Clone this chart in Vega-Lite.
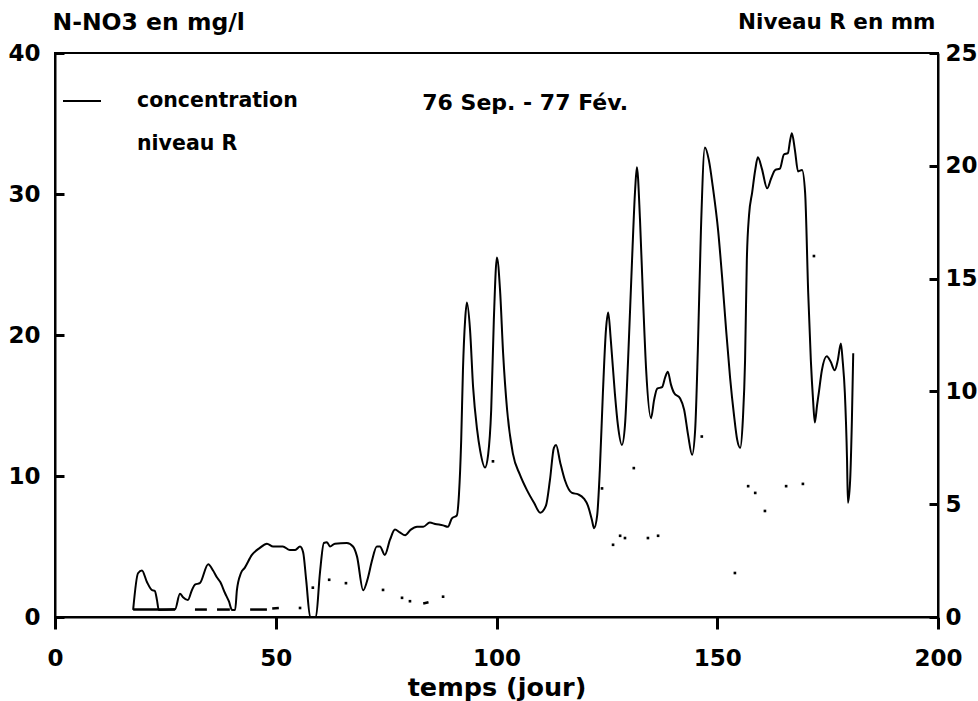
{
  "$schema": "https://vega.github.io/schema/vega-lite/v6.json",
  "autosize": {"type": "none"},
  "padding": {"left": 55, "top": 53, "right": 40, "bottom": 84},
  "width": 883,
  "height": 564,
  "background": "white",
  "config": {
    "font": "DejaVu Sans",
    "view": {"stroke": "black", "strokeWidth": 2},
    "axis": {
      "grid": false,
      "domainColor": "black",
      "domainWidth": 2,
      "labelFont": "DejaVu Sans",
      "labelFontWeight": "bold",
      "labelFontSize": 23,
      "labelColor": "black",
      "titleFont": "DejaVu Sans",
      "titleFontWeight": "bold",
      "titleColor": "black"
    },
    "legend": {
      "orient": "none",
      "legendX": 7,
      "legendY": 28,
      "padding": 0,
      "symbolType": "stroke",
      "symbolSize": 1444,
      "symbolStrokeWidth": 2,
      "labelFont": "DejaVu Sans",
      "labelFontWeight": "bold",
      "labelFontSize": 20.5,
      "labelColor": "black",
      "labelOffset": 35,
      "labelLimit": 0,
      "rowPadding": 12
    }
  },
  "datasets": {
    "conc": [
      {"day": 17.7, "c": 0.5}, {"day": 18.8, "c": 3.1}, {"day": 19.7, "c": 3.3}, {"day": 20.8, "c": 2.5},
      {"day": 22.0, "c": 1.9}, {"day": 22.6, "c": 1.85}, {"day": 23.1, "c": 1.2}, {"day": 23.5, "c": 0.5},
      {"day": 27.2, "c": 0.55}, {"day": 28.3, "c": 1.65}, {"day": 29.0, "c": 1.4}, {"day": 30.1, "c": 1.2},
      {"day": 31.0, "c": 1.9}, {"day": 31.7, "c": 2.3}, {"day": 32.8, "c": 2.4}, {"day": 34.7, "c": 3.75},
      {"day": 35.8, "c": 3.3}, {"day": 36.7, "c": 2.8}, {"day": 37.4, "c": 2.5}, {"day": 38.5, "c": 1.7},
      {"day": 39.4, "c": 1.1}, {"day": 40.1, "c": 0.5}, {"day": 40.8, "c": 0.5}, {"day": 41.2, "c": 1.9},
      {"day": 42.1, "c": 3.1}, {"day": 43.0, "c": 3.5}, {"day": 44.6, "c": 4.4}, {"day": 46.4, "c": 4.9},
      {"day": 48.0, "c": 5.2}, {"day": 49.4, "c": 5.0}, {"day": 51.6, "c": 5.0}, {"day": 53.2, "c": 4.75},
      {"day": 54.4, "c": 4.75}, {"day": 55.5, "c": 5.0}, {"day": 56.2, "c": 4.6}, {"day": 56.9, "c": 2.6},
      {"day": 57.8, "c": 0.0}, {"day": 59.1, "c": 0.0}, {"day": 60.0, "c": 3.1}, {"day": 60.9, "c": 5.25},
      {"day": 61.6, "c": 5.3}, {"day": 62.3, "c": 5.0}, {"day": 63.4, "c": 5.2}, {"day": 66.1, "c": 5.25},
      {"day": 67.5, "c": 5.0}, {"day": 68.4, "c": 4.3}, {"day": 69.8, "c": 1.9}, {"day": 70.9, "c": 2.8},
      {"day": 71.8, "c": 4.0}, {"day": 72.9, "c": 5.0}, {"day": 73.6, "c": 5.0}, {"day": 74.7, "c": 4.4},
      {"day": 75.9, "c": 5.5}, {"day": 77.0, "c": 6.2}, {"day": 78.1, "c": 6.0}, {"day": 79.3, "c": 5.8},
      {"day": 80.6, "c": 6.2}, {"day": 82.0, "c": 6.4}, {"day": 83.4, "c": 6.4}, {"day": 84.9, "c": 6.7},
      {"day": 86.1, "c": 6.6}, {"day": 87.9, "c": 6.5}, {"day": 89.0, "c": 6.4}, {"day": 89.9, "c": 7.0},
      {"day": 91.0, "c": 7.2}, {"day": 91.5, "c": 8.7}, {"day": 92.0, "c": 12.5}, {"day": 92.4, "c": 17.5},
      {"day": 92.9, "c": 21.1}, {"day": 93.3, "c": 22.3}, {"day": 94.0, "c": 20.4}, {"day": 94.7, "c": 16.3},
      {"day": 95.6, "c": 13.3}, {"day": 96.3, "c": 11.8}, {"day": 97.4, "c": 10.6}, {"day": 98.1, "c": 11.5},
      {"day": 98.8, "c": 14.7}, {"day": 99.4, "c": 21.1}, {"day": 100.1, "c": 25.5}, {"day": 100.8, "c": 23.2},
      {"day": 101.5, "c": 18.7}, {"day": 102.4, "c": 14.7}, {"day": 103.7, "c": 11.6}, {"day": 105.3, "c": 10.1},
      {"day": 106.9, "c": 9.0}, {"day": 108.5, "c": 8.1}, {"day": 109.9, "c": 7.4}, {"day": 111.2, "c": 7.9},
      {"day": 112.1, "c": 9.7}, {"day": 113.0, "c": 12.0}, {"day": 113.5, "c": 12.2}, {"day": 114.4, "c": 11.0},
      {"day": 115.5, "c": 9.7}, {"day": 117.1, "c": 8.8}, {"day": 118.5, "c": 8.7}, {"day": 119.8, "c": 8.4},
      {"day": 120.7, "c": 7.9}, {"day": 121.6, "c": 6.9}, {"day": 122.1, "c": 6.3}, {"day": 122.8, "c": 7.2},
      {"day": 123.4, "c": 10.4}, {"day": 124.1, "c": 15.9}, {"day": 124.8, "c": 20.4}, {"day": 125.3, "c": 21.6},
      {"day": 125.9, "c": 19.6}, {"day": 126.8, "c": 15.9}, {"day": 127.5, "c": 13.6}, {"day": 128.4, "c": 12.2},
      {"day": 129.1, "c": 13.6}, {"day": 129.8, "c": 18.2}, {"day": 130.7, "c": 25.3}, {"day": 131.4, "c": 30.3},
      {"day": 131.8, "c": 31.9}, {"day": 132.5, "c": 28.2}, {"day": 133.2, "c": 22.5}, {"day": 133.9, "c": 17.5},
      {"day": 135.0, "c": 14.1}, {"day": 135.7, "c": 15.4}, {"day": 136.4, "c": 16.2}, {"day": 137.5, "c": 16.3},
      {"day": 138.2, "c": 17.0}, {"day": 138.8, "c": 17.4}, {"day": 139.5, "c": 16.5}, {"day": 140.2, "c": 15.9},
      {"day": 141.6, "c": 15.5}, {"day": 142.5, "c": 14.7}, {"day": 143.4, "c": 12.9}, {"day": 144.3, "c": 11.5},
      {"day": 145.0, "c": 13.3}, {"day": 145.6, "c": 18.9}, {"day": 146.3, "c": 27.4}, {"day": 147.2, "c": 33.3},
      {"day": 148.1, "c": 32.4}, {"day": 149.0, "c": 30.5}, {"day": 150.2, "c": 27.4}, {"day": 151.1, "c": 24.1},
      {"day": 152.0, "c": 20.4}, {"day": 152.9, "c": 17.0}, {"day": 153.8, "c": 14.3}, {"day": 154.5, "c": 12.6},
      {"day": 155.2, "c": 12.0}, {"day": 155.8, "c": 14.0}, {"day": 156.3, "c": 18.2}, {"day": 156.7, "c": 25.3},
      {"day": 157.2, "c": 28.5}, {"day": 157.9, "c": 30.1}, {"day": 158.6, "c": 31.7}, {"day": 159.2, "c": 32.6},
      {"day": 160.1, "c": 31.8}, {"day": 161.3, "c": 30.4}, {"day": 162.2, "c": 31.1}, {"day": 163.1, "c": 31.7},
      {"day": 164.2, "c": 31.8}, {"day": 165.1, "c": 32.8}, {"day": 166.0, "c": 32.9}, {"day": 166.5, "c": 33.8},
      {"day": 166.9, "c": 34.3}, {"day": 167.6, "c": 33.1}, {"day": 168.3, "c": 31.6}, {"day": 169.2, "c": 31.7},
      {"day": 169.9, "c": 30.1}, {"day": 170.6, "c": 23.0}, {"day": 171.2, "c": 18.2}, {"day": 171.7, "c": 15.4},
      {"day": 172.1, "c": 13.8}, {"day": 172.6, "c": 15.0}, {"day": 173.0, "c": 15.9}, {"day": 173.7, "c": 17.5},
      {"day": 174.8, "c": 18.5}, {"day": 175.7, "c": 18.1}, {"day": 176.6, "c": 17.5}, {"day": 177.3, "c": 18.2},
      {"day": 178.0, "c": 19.4}, {"day": 178.4, "c": 18.2}, {"day": 178.9, "c": 15.9}, {"day": 179.4, "c": 11.1},
      {"day": 179.6, "c": 8.1}, {"day": 180.1, "c": 9.7}, {"day": 180.5, "c": 14.0}, {"day": 180.8, "c": 18.7}
    ],
    "niveau_dashes": [
      {"seg": 1, "day": 17.7, "r": 0.33}, {"seg": 1, "day": 27.2, "r": 0.33},
      {"seg": 2, "day": 31.7, "r": 0.33}, {"seg": 2, "day": 34.4, "r": 0.33},
      {"seg": 3, "day": 36.7, "r": 0.33}, {"seg": 3, "day": 39.6, "r": 0.33},
      {"seg": 4, "day": 44.2, "r": 0.33}, {"seg": 4, "day": 48.0, "r": 0.33},
      {"seg": 5, "day": 49.2, "r": 0.38}, {"seg": 5, "day": 50.7, "r": 0.4},
      {"seg": 6, "day": 83.4, "r": 0.6}, {"seg": 6, "day": 84.6, "r": 0.65}
    ],
    "niveau_dots": [
      {"day": 55.5, "r": 0.4}, {"day": 58.4, "r": 1.3}, {"day": 62.1, "r": 1.65}, {"day": 65.9, "r": 1.5},
      {"day": 74.3, "r": 1.2}, {"day": 78.6, "r": 0.85}, {"day": 80.4, "r": 0.7}, {"day": 87.9, "r": 0.9},
      {"day": 99.2, "r": 6.9}, {"day": 123.9, "r": 5.7}, {"day": 126.4, "r": 3.2}, {"day": 128.0, "r": 3.6},
      {"day": 129.1, "r": 3.5}, {"day": 131.1, "r": 6.6}, {"day": 134.3, "r": 3.5}, {"day": 136.6, "r": 3.6},
      {"day": 146.5, "r": 8.0}, {"day": 154.0, "r": 1.95}, {"day": 157.0, "r": 5.8}, {"day": 158.6, "r": 5.5},
      {"day": 160.8, "r": 4.7}, {"day": 165.6, "r": 5.8}, {"day": 169.4, "r": 5.9}, {"day": 171.9, "r": 16.0}
    ]
  },
  "layer": [
    {
      "layer": [
        {
          "data": {"name": "conc"},
          "mark": {"type": "line", "interpolate": "monotone", "strokeWidth": 2},
          "encoding": {
            "x": {
              "field": "day", "type": "quantitative",
              "scale": {"domain": [0, 200], "nice": false, "zero": false},
              "axis": {
                "values": [0, 50, 100, 150, 200], "ticks": true, "tickSize": 12, "tickWidth": 3,
                "tickColor": "black", "tickOpacity": 1, "labelPadding": 18,
                "labelFlush": false, "title": "temps (jour)", "titleFontSize": 25.5, "titlePadding": 5
              }
            },
            "y": {
              "field": "c", "type": "quantitative",
              "scale": {"domain": [0, 40], "nice": false},
              "axis": {
                "orient": "left", "values": [0, 10, 20, 30, 40], "ticks": true, "tickSize": -9,
                "tickWidth": 3, "tickColor": "black", "tickOpacity": 1, "labelPadding": 24,
                "title": "N-NO3 en mg/l", "titleFontSize": 23.5, "titleAngle": 0, "titleAlign": "left",
                "titleBaseline": "middle", "titleX": -3, "titleY": -31
              }
            },
            "stroke": {
              "datum": "concentration",
              "scale": {"domain": ["concentration", "niveau R"], "range": ["black", "white"]},
              "legend": {"title": null}
            }
          }
        },
        {
          "data": {"values": [{}]},
          "mark": {"type": "text", "font": "DejaVu Sans", "fontWeight": "bold", "fontSize": 22, "color": "black", "align": "center", "baseline": "middle"},
          "encoding": {
            "x": {"datum": 106.5, "type": "quantitative"},
            "y": {"datum": 36.45, "type": "quantitative"},
            "text": {"value": "76 Sep. - 77 Fév."}
          }
        }
      ]
    },
    {
      "layer": [
        {
          "data": {"name": "niveau_dashes"},
          "mark": {"type": "line", "color": "black", "strokeWidth": 2.5},
          "encoding": {
            "x": {"field": "day", "type": "quantitative"},
            "y": {
              "field": "r", "type": "quantitative",
              "scale": {"domain": [0, 25], "nice": false},
              "axis": {
                "orient": "right", "values": [0, 5, 10, 15, 20, 25], "ticks": true, "tickSize": -9,
                "tickWidth": 3, "tickColor": "black", "tickOpacity": 1, "labelPadding": 16,
                "title": "Niveau R en mm", "titleFontSize": 21.5, "titleAngle": 0, "titleAlign": "right",
                "titleBaseline": "middle", "titleX": -3, "titleY": -31
              }
            },
            "detail": {"field": "seg", "type": "nominal"}
          }
        },
        {
          "data": {"name": "niveau_dots"},
          "mark": {"type": "square", "color": "black", "filled": true, "size": 7, "opacity": 1},
          "encoding": {
            "x": {"field": "day", "type": "quantitative"},
            "y": {"field": "r", "type": "quantitative"}
          }
        }
      ]
    }
  ],
  "resolve": {"scale": {"y": "independent"}}
}
